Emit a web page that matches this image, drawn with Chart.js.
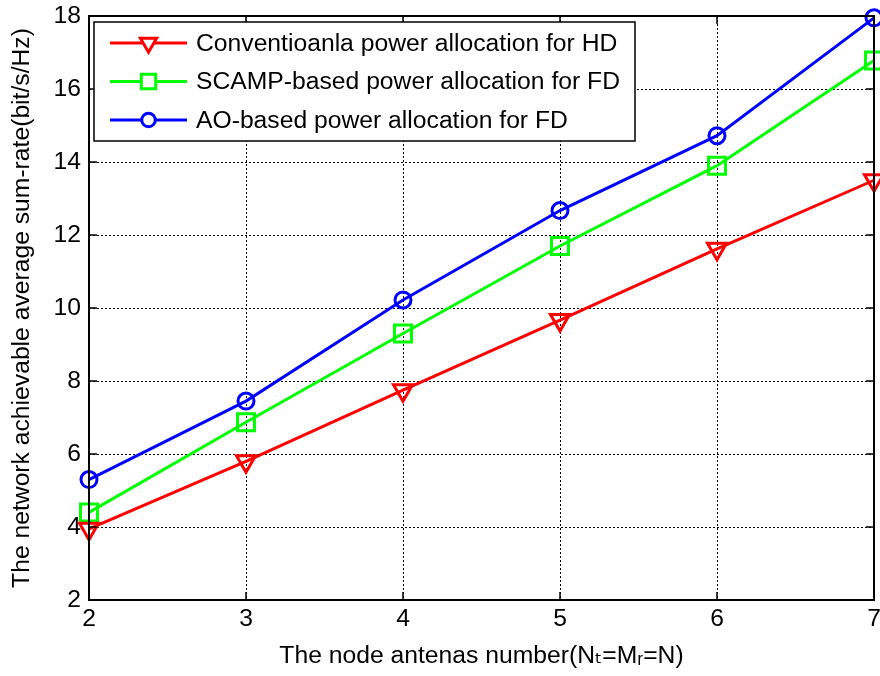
<!DOCTYPE html>
<html><head><meta charset="utf-8">
<script src="https://cdn.jsdelivr.net/npm/chart.js@4"></script>
<style>html,body{margin:0;padding:0;background:#fff}#wrap{width:880px;height:676px;position:relative}</style>
</head><body><div id="wrap"><canvas id="c" width="880" height="676"></canvas></div>
<script>
const antennas = [2, 3, 4, 5, 6, 7];
const hdRate = [3.95, 5.8, 7.75, 9.67, 11.62, 13.5];
const scampRate = [4.4, 6.87, 9.3, 11.7, 13.9, 16.78];
const aoRate = [5.3, 7.45, 10.22, 12.67, 14.72, 17.95];
const seriesLabels = [
  'Conventioanla power allocation for HD',
  'SCAMP-based power allocation for FD',
  'AO-based power allocation for FD'
];
const xTicks = [2, 3, 4, 5, 6, 7];
const yTicks = [2, 4, 6, 8, 10, 12, 14, 16, 18];
const xTitle = 'The node antenas number(N\u209C=M\u1D63=N)';
const yTitle = 'The network achievable average sum-rate(bit/s/Hz)';

const FONT = "'Liberation Sans', Arial, 'DejaVu Sans', sans-serif";
const FS = 24.7;
const toPts = arr => antennas.map((x, i) => ({x: x, y: arr[i]}));

const framePlugin = {
  id: 'frame',
  afterDraw(chart) {
    const {ctx, chartArea: a, scales} = chart;
    ctx.save();
    ctx.strokeStyle = '#000';
    ctx.lineWidth = 1.5;
    const tl = 8;
    xTicks.forEach(v => {
      const px = scales.x.getPixelForValue(v);
      ctx.beginPath();
      ctx.moveTo(px, a.bottom); ctx.lineTo(px, a.bottom - tl);
      ctx.moveTo(px, a.top); ctx.lineTo(px, a.top + tl);
      ctx.stroke();
    });
    yTicks.forEach(v => {
      const py = scales.y.getPixelForValue(v);
      ctx.beginPath();
      ctx.moveTo(a.left, py); ctx.lineTo(a.left + tl, py);
      ctx.moveTo(a.right, py); ctx.lineTo(a.right - tl, py);
      ctx.stroke();
    });
    ctx.lineWidth = 2;
    ctx.strokeRect(a.left, a.top, a.right - a.left, a.bottom - a.top);
    // legend
    const lx = a.left + 5, ly = a.top + 6, lw = 541, lh = 119;
    ctx.fillStyle = '#fff';
    ctx.fillRect(lx, ly, lw, lh);
    ctx.lineWidth = 1.5;
    ctx.strokeStyle = '#000';
    ctx.strokeRect(lx, ly, lw, lh);
    chart.data.datasets.forEach((ds, i) => {
      const cy = ly + 21 + i * 38.5;
      const x0 = lx + 16, x1 = lx + 93, xm = (x0 + x1) / 2;
      ctx.strokeStyle = ds.borderColor;
      ctx.lineWidth = 3;
      ctx.beginPath(); ctx.moveTo(x0, cy); ctx.lineTo(x1, cy); ctx.stroke();
      ctx.fillStyle = '#fff';
      Chart.helpers.drawPoint(ctx, {
        pointStyle: ds.pointStyle, rotation: ds.pointRotation || 0,
        radius: ds.pointRadius * 0.85, borderWidth: 3
      }, xm, cy);
      ctx.fillStyle = '#000';
      ctx.font = FS + 'px ' + FONT;
      ctx.textBaseline = 'middle';
      ctx.textAlign = 'left';
      ctx.fillText(ds.label, lx + 102, cy + 1);
    });
    ctx.restore();
  }
};

const mk = (label, data, color, style, r, rot) => ({
  label: label, data: toPts(data), borderColor: color, backgroundColor: color,
  borderWidth: 3, pointStyle: style, pointRadius: r, pointHoverRadius: r,
  pointRotation: rot, pointBorderColor: color, pointBackgroundColor: 'rgba(0,0,0,0)',
  pointBorderWidth: 3, tension: 0, clip: false
});

new Chart(document.getElementById('c'), {
  type: 'line',
  data: {
    datasets: [
      mk(seriesLabels[0], hdRate, '#ff0000', 'triangle', 11, 180),
      mk(seriesLabels[1], scampRate, '#00ff00', 'rect', 12, 0),
      mk(seriesLabels[2], aoRate, '#0000ff', 'circle', 8, 0)
    ]
  },
  options: {
    responsive: false,
    animation: false,
    devicePixelRatio: 1,
    layout: {autoPadding: false, padding: {left: 0, right: 6, top: 16, bottom: 0}},
    plugins: {legend: {display: false}, tooltip: {enabled: false}},
    scales: {
      x: {
        type: 'linear', min: 2, max: 7,
        afterBuildTicks: s => { s.ticks = xTicks.map(v => ({value: v})); },
        afterFit: s => { s.height = 76; s.paddingLeft = 0; s.paddingRight = 0; },
        grid: {color: '#000', lineWidth: 1, drawTicks: false},
        border: {display: false, dash: [2, 2]},
        ticks: {color: '#000', padding: 4, font: {family: FONT, size: FS}, autoSkip: false, maxRotation: 0},
        title: {display: true, text: xTitle, color: '#000', font: {family: FONT, size: FS}, padding: {top: 0, bottom: 5}}
      },
      y: {
        min: 2, max: 18,
        afterBuildTicks: s => { s.ticks = yTicks.map(v => ({value: v})); },
        afterFit: s => { s.width = 89; s.paddingTop = 0; s.paddingBottom = 0; },
        grid: {color: '#000', lineWidth: 1, drawTicks: false},
        border: {display: false, dash: [2, 2]},
        ticks: {color: '#000', padding: 8, font: {family: FONT, size: FS}},
        title: {display: true, text: yTitle, color: '#000', font: {family: FONT, size: FS}, padding: {top: 7, bottom: 0}}
      }
    }
  },
  plugins: [framePlugin]
});
</script></body></html>
